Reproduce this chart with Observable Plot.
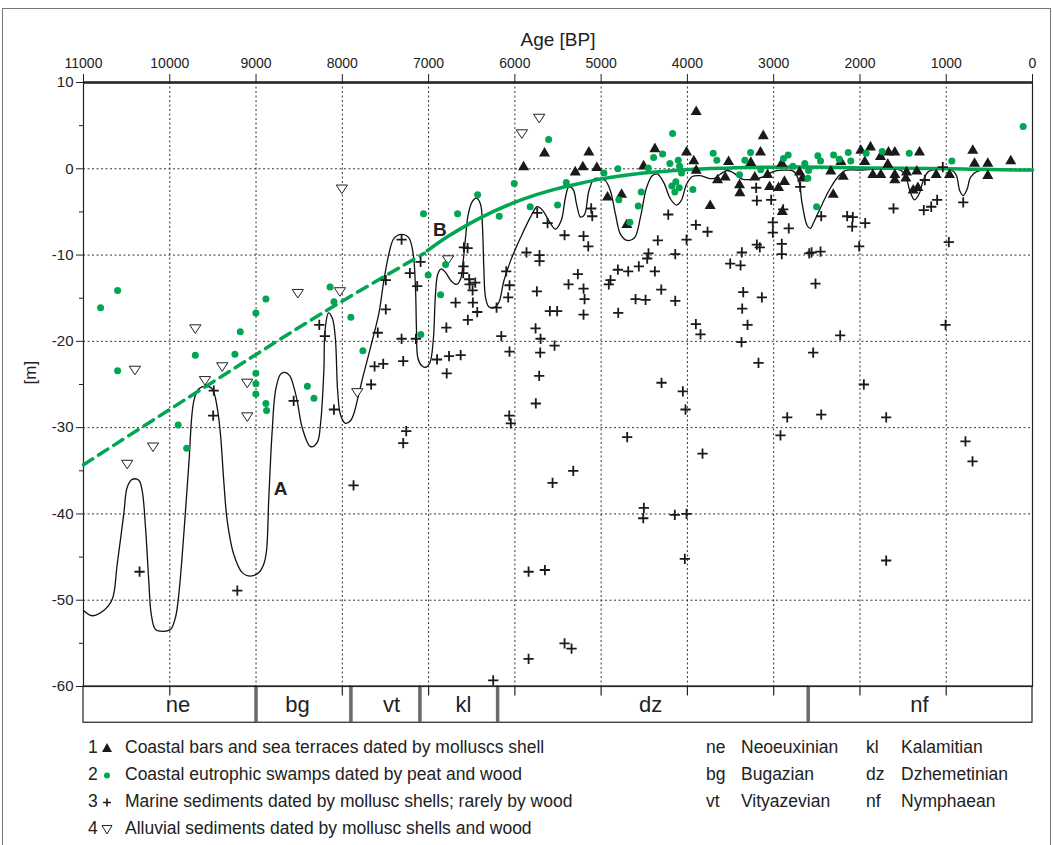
<!DOCTYPE html>
<html><head><meta charset="utf-8">
<script src="https://cdn.jsdelivr.net/npm/d3@7"></script>
<script src="https://cdn.jsdelivr.net/npm/@observablehq/plot@0.6"></script>
<style>
body{margin:0;background:#fff;font-family:"Liberation Sans",Arial,sans-serif;color:#222;}
#wrap{position:relative;width:1053px;height:845px;overflow:hidden;}
#border{position:absolute;left:2px;top:8px;width:1049px;height:900px;border:1px solid #777;box-sizing:border-box;}
#chart{position:absolute;left:0;top:0;}
.row{position:absolute;height:27px;line-height:27px;font-size:17.5px;white-space:nowrap;}
.row svg{vertical-align:middle;}
</style></head><body>
<div id="wrap"><div id="border"></div><div id="chart"></div><div id="legend"></div></div>
<script>
// ---------- DATA ----------
const xTicks = [11000,10000,9000,8000,7000,6000,5000,4000,3000,2000,1000,0];
const xGrid = [10000,9000,8000,7000,6000,5000,4000,3000,2000,1000];
const yTicks = [10,0,-10,-20,-30,-40,-50,-60];
const yMinor = [5,-5,-15,-25,-35,-45,-55];
const yGrid = [0,-10,-20,-30,-40,-50];

// 1 coastal bars and sea terraces [age BP, m]
const bars = [[5899,0.2],[5656,1.8],[5142,1.9],[5212,0.2],[5300,-0.4],[5050,0.1],[4926,-3.3],[4763,-3.0],[4702,-6.5],[4377,2.3],[4508,0.3],[4010,1.9],[3926,0.9],[3898,6.6],[3898,-0.2],[3736,-4.3],[3523,0.8],[3651,-1.3],[3562,-1.0],[3396,-1.9],[3392,-2.8],[3265,0.7],[3219,-1.0],[3153,1.9],[3121,3.8],[3071,-0.7],[3048,-2.1],[2944,-2.2],[2906,0.6],[2875,-1.5],[2900,-5.0],[2700,-0.4],[2666,-1.1],[2338,-0.3],[2194,-0.9],[2221,0.8],[2310,-3.0],[1990,2.1],[1878,2.5],[1944,0.8],[1851,-0.7],[1758,-0.7],[1762,1.4],[1677,0.5],[1669,1.9],[1596,1.9],[1596,-0.7],[1596,-1.3],[1468,-1.1],[1460,-0.4],[1341,-0.3],[1310,1.9],[1383,-2.5],[1329,-2.2],[1116,-0.7],[962,-0.7],[692,2.1],[672,0.6],[518,0.6],[518,-0.8],[252,0.9]];

// 2 coastal eutrophic swamps
const swamps = [[10802,-16.1],[10605,-14.1],[10605,-23.4],[9903,-29.7],[9804,-32.4],[9704,-21.6],[9245,-21.5],[9183,-18.9],[9002,-16.7],[8886,-15.1],[9002,-23.7],[9002,-24.9],[9002,-26.1],[8886,-27.2],[8878,-28.0],[8405,-25.2],[8329,-26.6],[8142,-13.7],[8097,-15.4],[7901,-17.2],[7762,-21.1],[7090,-19.2],[7059,-5.2],[7005,-12.3],[6861,-14.6],[6803,-11.1],[6664,-5.2],[6432,-3.0],[6181,-5.5],[6007,-1.7],[5822,-4.4],[5609,3.4],[5505,-4.2],[5404,-1.6],[4968,-0.5],[4806,0.0],[4795,-3.6],[4667,-6.2],[4570,-4.3],[4535,-2.7],[4454,0.1],[4392,1.3],[4288,1.7],[4203,0.6],[4172,4.1],[4106,1.0],[4091,0.3],[4068,-0.5],[4180,-2.0],[4134,-1.5],[4095,-2.2],[4146,-2.7],[3937,-2.4],[3701,1.8],[3659,1.0],[3396,-0.7],[3334,1.0],[3268,1.9],[3149,-0.1],[2886,1.2],[2832,1.6],[2778,0.3],[2639,0.6],[2596,-0.2],[2604,-1.1],[2503,-4.4],[2488,1.5],[2457,0.9],[2306,1.6],[2241,1.1],[2136,1.9],[2106,0.9],[1928,1.8],[1742,2.0],[1429,1.8],[935,0.9],[108,4.9]];

// 3 marine sediments
const marine = [[10350,-46.7],[9490,-25.7],[9497,-28.6],[9217,-48.9],[8564,-26.9],[8267,-18.1],[8202,-19.4],[8097,-27.9],[7870,-36.7],[7666,-25.0],[7626,-22.9],[7589,-19.0],[7526,-22.6],[7496,-12.9],[7496,-16.3],[7313,-8.2],[7313,-19.7],[7294,-22.3],[7294,-31.8],[7259,-30.4],[7217,-12.1],[7147,-19.7],[7132,-13.6],[7093,-10.8],[6902,-22.1],[6794,-18.4],[6790,-23.7],[6763,-21.7],[6687,-15.5],[6628,-21.6],[6599,-12.1],[6595,-11.3],[6591,-9.1],[6548,-9.2],[6545,-17.5],[6529,-12.8],[6525,-13.4],[6490,-14.1],[6487,-15.5],[6459,-13.2],[6436,-16.6],[6251,-59.3],[6212,-16.1],[6157,-19.4],[6100,-11.9],[6077,-14.9],[6065,-28.6],[6062,-13.5],[6062,-21.2],[6047,-29.5],[5865,-9.7],[5841,-46.7],[5841,-56.8],[5760,-18.5],[5757,-27.2],[5745,-14.2],[5741,-5.1],[5718,-24.0],[5714,-10.0],[5714,-10.7],[5706,-21.3],[5702,-19.7],[5652,-46.5],[5621,-6.3],[5594,-16.5],[5563,-36.4],[5540,-20.5],[5510,-16.5],[5424,-7.7],[5424,-55.0],[5378,-13.4],[5343,-55.6],[5323,-35.0],[5270,-12.2],[5204,-7.8],[5204,-13.9],[5192,-15.1],[5204,-16.9],[5149,-9.0],[5115,-4.6],[5103,-5.5],[4911,-13.4],[4891,-12.9],[4806,-11.7],[4802,-16.7],[4698,-31.1],[4686,-11.9],[4601,-15.1],[4563,-11.3],[4512,-40.5],[4505,-39.3],[4485,-15.2],[4466,-10.4],[4451,-9.8],[4377,-11.9],[4343,-8.3],[4303,-14.0],[4300,-24.8],[4222,-5.3],[4146,-40.1],[4141,-9.9],[4141,-15.3],[4053,-25.8],[4030,-45.2],[4022,-27.9],[4010,-8.2],[4010,-40.0],[3902,-6.5],[3902,-18.0],[3848,-19.2],[3825,-33.0],[3767,-7.3],[3504,-11.0],[3384,-11.2],[3373,-20.1],[3369,-9.7],[3365,-16.2],[3353,-14.3],[3303,-18.1],[3203,-2.2],[3195,-3.7],[3195,-8.8],[3176,-22.5],[3161,-9.1],[3137,-14.9],[3029,-3.6],[3010,-6.2],[3010,-7.4],[2921,-30.9],[2906,-8.7],[2906,-9.9],[2890,-4.7],[2843,-28.8],[2825,-6.9],[2692,-2.1],[2588,-9.8],[2561,-9.7],[2542,-21.3],[2515,-13.3],[2457,-9.6],[2449,-5.5],[2449,-28.5],[2229,-19.3],[2148,-5.5],[2090,-6.7],[2083,-5.6],[2009,-9.0],[1955,-25.0],[1939,-6.3],[1696,-28.8],[1696,-45.4],[1611,-4.6],[1260,-4.8],[1248,-1.3],[1174,-4.4],[1105,-3.6],[1040,0.2],[1008,-18.1],[970,-8.5],[803,-3.9],[777,-31.6],[695,-33.9]];

// 4 alluvial sediments
const alluvial = [[10493,-34.2],[10404,-23.3],[10194,-32.2],[9704,-18.5],[9592,-24.5],[9392,-22.9],[9102,-24.8],[9102,-28.7],[8516,-14.4],[8028,-14.2],[8005,-2.3],[7827,-25.9],[6775,-10.5],[5919,4.1],[5718,5.9]];

// curve A (black) – traced sea-level fluctuation curve
const curveA = [[11000,-51.2],[10899,-51.8],[10766,-51.2],[10667,-49.9],[10609,-45.8],[10533,-40.0],[10493,-36.9],[10435,-36.0],[10359,-36.1],[10320,-37.3],[10281,-41.6],[10243,-47.8],[10215,-51.6],[10165,-53.4],[10069,-53.6],[9991,-53.4],[9934,-52.0],[9895,-49.3],[9837,-42.3],[9779,-34.2],[9721,-26.9],[9663,-25.5],[9586,-25.2],[9508,-25.5],[9450,-27.7],[9412,-30.8],[9374,-36.2],[9334,-40.8],[9258,-44.7],[9160,-46.8],[9064,-47.2],[8968,-46.8],[8910,-45.8],[8879,-44.3],[8852,-38.1],[8813,-30.4],[8774,-25.7],[8716,-23.8],[8666,-23.6],[8608,-24.0],[8562,-25.3],[8523,-26.9],[8465,-30.0],[8369,-32.2],[8291,-31.7],[8253,-29.6],[8214,-23.4],[8201,-18.8],[8160,-16.7],[8113,-17.4],[8079,-19.9],[8055,-25.6],[8021,-28.5],[7963,-29.5],[7905,-29.2],[7867,-28.4],[7809,-26.1],[7766,-24.3],[7673,-20.7],[7577,-16.8],[7519,-13.0],[7461,-9.9],[7403,-8.1],[7314,-7.6],[7229,-8.0],[7178,-9.9],[7152,-13.8],[7140,-18.8],[7125,-21.9],[7082,-22.8],[7036,-23.0],[6986,-22.5],[6946,-19.9],[6920,-14.5],[6893,-12.2],[6854,-11.6],[6804,-12.0],[6738,-13.0],[6676,-13.4],[6630,-12.8],[6599,-10.7],[6572,-8.0],[6541,-5.3],[6494,-3.8],[6445,-3.4],[6398,-4.1],[6375,-6.8],[6360,-11.4],[6340,-14.9],[6302,-16.0],[6244,-16.1],[6186,-15.5],[6128,-13.0],[6051,-10.7],[5935,-8.0],[5819,-5.6],[5741,-4.4],[5672,-4.9],[5607,-6.0],[5529,-7.0],[5463,-6.0],[5413,-3.3],[5375,-2.1],[5324,-2.4],[5285,-4.1],[5239,-5.6],[5193,-5.3],[5143,-2.6],[5085,-1.2],[5027,-1.1],[4949,-1.4],[4891,-2.6],[4833,-5.3],[4775,-7.6],[4698,-8.3],[4613,-8.0],[4544,-5.6],[4474,-2.2],[4408,-0.8],[4350,-0.6],[4274,-1.6],[4196,-3.5],[4126,-4.2],[4072,-3.7],[4010,-1.8],[3944,-0.9],[3848,-0.8],[3752,-1.1],[3686,-1.1],[3616,-0.6],[3539,-0.2],[3462,-0.5],[3365,-1.2],[3230,-1.2],[3115,-0.9],[2999,-0.3],[2883,-0.15],[2767,-0.3],[2709,-1.4],[2669,-4.1],[2611,-6.6],[2573,-6.9],[2535,-6.2],[2438,-4.1],[2341,-2.2],[2245,-0.8],[2167,-0.2],[2032,-0.15],[1530,-0.15],[1472,-0.8],[1422,-2.55],[1368,-3.6],[1313,-2.9],[1267,-1.4],[1202,-0.3],[931,-0.2],[881,-0.8],[843,-2.55],[803,-3.1],[757,-2.35],[719,-1.0],[641,-0.3],[23,-0.15],[0,-0.15]];

// curve B (green) – generalised trend; dashed part is extrapolated
const trendDashed = [[11000,-34.3],[9547,-25.0],[8194,-16.5],[7050,-9.8]];
const trendSolid = [[7016,-9.5],[6769,-7.8],[6514,-6.3],[6259,-5.0],[6004,-3.9],[5749,-3.0],[5506,-2.3],[5251,-1.7],[5007,-1.2],[4509,-0.5],[4010,-0.1],[3500,0.1],[3346,0.15],[2689,0.2],[1916,0.1],[950,0.0],[23,-0.15],[0,-0.15]];

const curveLabelText = ["A","B"];
const curveLabelAge = [8716, 6869];
const curveLabelM = [-37.1, -7.1];

// stages (boundaries in years BP)
const stageAbbr = ["ne","bg","vt","kl","dz","nf"];
const stageName = ["Neoeuxinian","Bugazian","Vityazevian","Kalamitian","Dzhemetinian","Nymphaean"];
const stageStart = [11000,9000,7900,7100,6200,2600];
const stageEnd = [9000,7900,7100,6200,2600,0];
const stageLabelAge = [9906,8520,7430,6595,4427,1310];

const legendNum = ["1","2","3","4"];
const legendText = ["Coastal bars and sea terraces dated by molluscs shell","Coastal eutrophic swamps dated by peat and wood","Marine sediments dated by mollusc shells; rarely by wood","Alluvial sediments dated by mollusc shells and wood"];

// ---------- BUILD ----------
const GREEN = "#00a651";
const pts = a => a.map(([age, m]) => ({age, m}));
const stages = stageAbbr.map((s, i) => ({abbr: s, start: stageStart[i], end: stageEnd[i], lab: stageLabelAge[i]}));
const bounds = stageStart.slice(1);
const labels = curveLabelText.map((t, i) => ({t, age: curveLabelAge[i], m: curveLabelM[i]}));
const BAND_TOP = -60, BAND_BOTTOM = -64.2, BAND_MID = -62.1;

const triDown = {draw(ctx, size) {
  const r = Math.sqrt(size / Math.PI);
  ctx.moveTo(-r * 1.25, -r * 0.8); ctx.lineTo(r * 1.25, -r * 0.8); ctx.lineTo(0, r * 1.1); ctx.closePath();
}};

const chart = Plot.plot({
  width: 1053, height: 730,
  marginTop: 82, marginBottom: 44, marginLeft: 83, marginRight: 21,
  x: {domain: [11000, 0]},
  y: {domain: [-60, 10]},
  style: {fontFamily: '"Liberation Sans", Arial, sans-serif', fontSize: "14px", color: "#222", background: "none", overflow: "visible"},
  marks: [
    Plot.gridX({ticks: xGrid, stroke: "#333", strokeOpacity: 1, strokeDasharray: "2,2.5", strokeWidth: 1}),
    Plot.gridY({ticks: yGrid, stroke: "#333", strokeOpacity: 1, strokeDasharray: "2,2.5", strokeWidth: 1}),
    Plot.ruleX(xGrid, {y1: BAND_TOP, y2: -61.1, stroke: "#222", strokeWidth: 1.2}),
    Plot.rect(stages, {x1: "start", x2: "end", y1: BAND_TOP, y2: BAND_BOTTOM, fill: "none", stroke: "#222", strokeWidth: 1.2}),
    Plot.ruleX(bounds, {y1: BAND_TOP, y2: BAND_BOTTOM, stroke: "#6b6b6b", strokeWidth: 3.5}),
    Plot.text(stages, {x: "lab", y: BAND_MID, text: "abbr", fontSize: 22, fill: "#222"}),
    Plot.frame({stroke: "#222", strokeWidth: 1.2}),
    Plot.ruleY([10], {stroke: "#222", strokeWidth: 2.5}),
    Plot.axisX({ticks: xTicks, anchor: "top", tickSize: 9, tickPadding: 6, tickFormat: d => String(d), label: null, fontSize: 14}),
    Plot.axisY({ticks: yTicks, anchor: "left", tickSize: 7, tickPadding: 3, tickFormat: d => String(d), label: null, fontSize: 15}),
    Plot.axisY({ticks: yMinor, anchor: "left", tickSize: 4, tickFormat: () => "", label: null}),
    Plot.text(["Age [BP]"], {frameAnchor: "top", dy: -50, fontSize: 19, fill: "#222"}),
    Plot.text(["[m]"], {frameAnchor: "left", dx: -53, rotate: -90, fontSize: 17, fill: "#222"}),
    Plot.line(pts(curveA), {x: "age", y: "m", curve: "catmull-rom", stroke: "#111", strokeWidth: 1.3}),
    Plot.line(pts(trendDashed), {x: "age", y: "m", curve: "catmull-rom", stroke: GREEN, strokeWidth: 3.5, strokeDasharray: "11,7"}),
    Plot.line(pts(trendSolid), {x: "age", y: "m", curve: "monotone-x", stroke: GREEN, strokeWidth: 3.5}),
    Plot.dot(pts(marine), {x: "age", y: "m", symbol: "plus", r: 3.4, stroke: "#1a1a1a", strokeWidth: 1.8}),
    Plot.dot(pts(alluvial), {x: "age", y: "m", symbol: triDown, r: 4.5, fill: "white", stroke: "#222", strokeWidth: 1}),
    Plot.dot(pts(bars), {x: "age", y: "m", symbol: "triangle", r: 4.1, fill: "#1a1a1a", stroke: "none"}),
    Plot.dot(pts(swamps), {x: "age", y: "m", r: 3.5, fill: GREEN, stroke: "none"}),
    Plot.text(labels, {x: "age", y: "m", text: "t", fontSize: 19, fontWeight: "bold", fill: "#222"})
  ]
});
document.getElementById("chart").appendChild(chart);

// ---------- LEGEND ----------
const icons = [
  '<svg width="14" height="14"><path d="M7,2 L12,11 L2,11 Z" fill="#1a1a1a"/></svg>',
  '<svg width="14" height="14"><circle cx="7" cy="7.5" r="3" fill="' + GREEN + '"/></svg>',
  '<svg width="14" height="14"><path d="M3,7.5 H11 M7,3.5 V11.5" stroke="#1a1a1a" stroke-width="1.6"/></svg>',
  '<svg width="14" height="14"><path d="M2,3.5 L12,3.5 L7,12 Z" fill="white" stroke="#222" stroke-width="1"/></svg>'
];
const leg = document.getElementById("legend");
legendNum.forEach((n, i) => {
  const top = 734 + i * 27;
  leg.insertAdjacentHTML("beforeend",
    `<div class="row" style="left:88px;top:${top}px">${n}</div>` +
    `<div class="row" style="left:100px;top:${top}px">${icons[i]}</div>` +
    `<div class="row" style="left:125px;top:${top}px">${legendText[i]}</div>`);
});
stageAbbr.forEach((a, i) => {
  const col = Math.floor(i / 3), r = i % 3;
  const top = 734 + r * 27;
  const ax = col === 0 ? 706 : 866, nx = col === 0 ? 741 : 901;
  leg.insertAdjacentHTML("beforeend",
    `<div class="row" style="left:${ax}px;top:${top}px">${a}</div>` +
    `<div class="row" style="left:${nx}px;top:${top}px">${stageName[i]}</div>`);
});
</script>
</body></html>
